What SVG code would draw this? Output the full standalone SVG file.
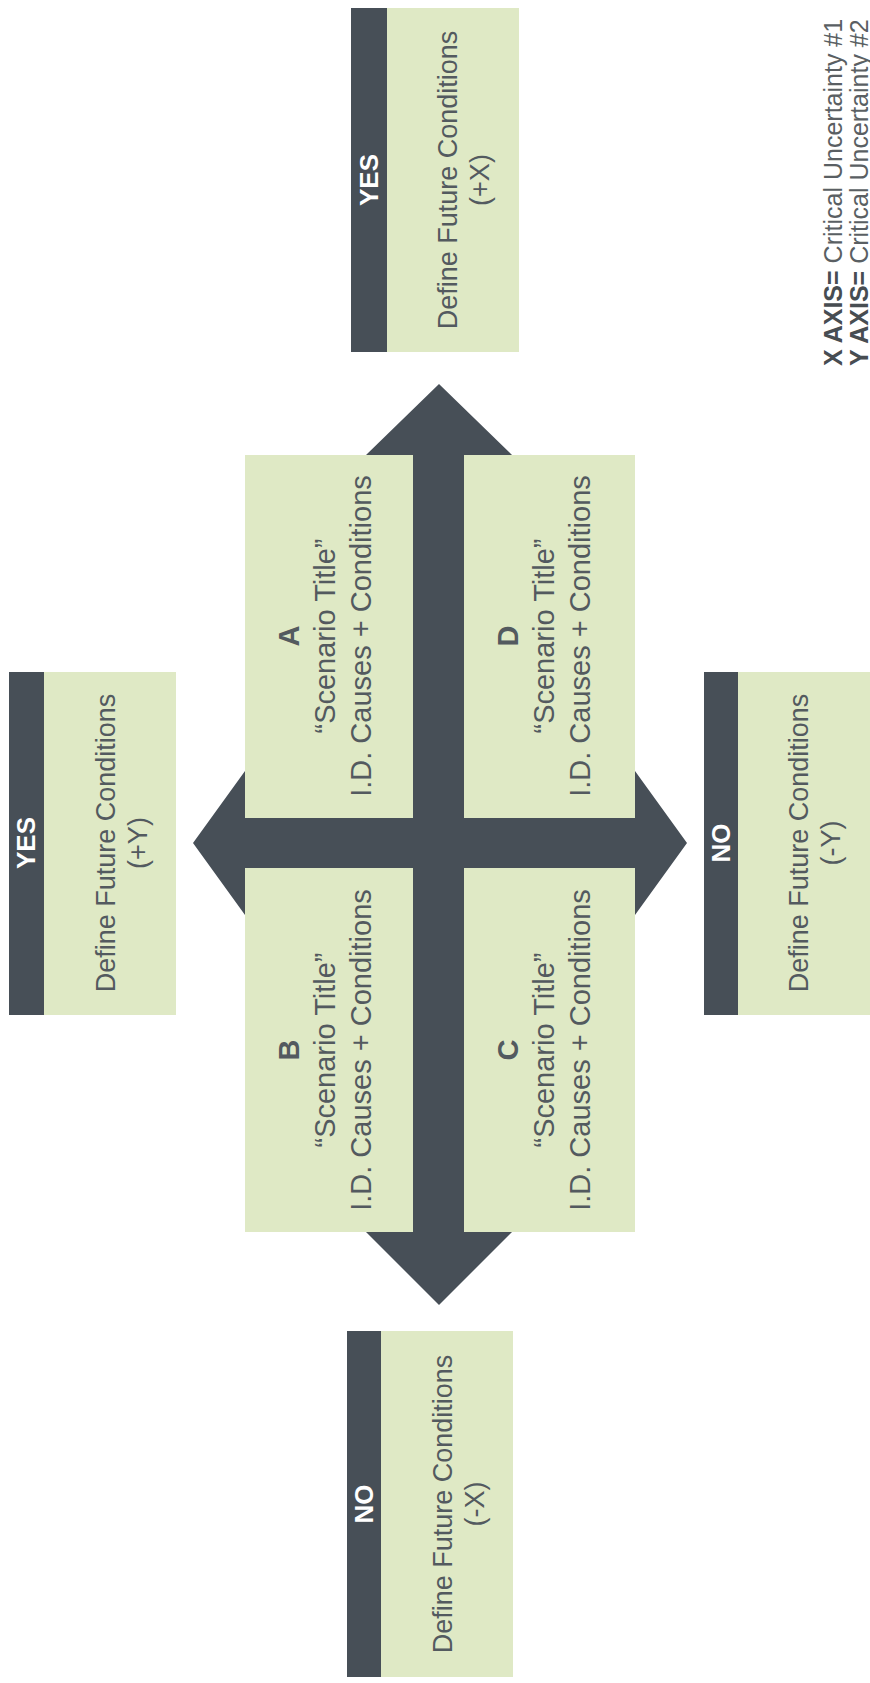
<svg xmlns="http://www.w3.org/2000/svg" width="870" height="1683" viewBox="0 0 870 1683">
<style>
.dark{fill:#474f57}
.green{fill:#dfe9c5}
.t{font-family:"Liberation Sans",Arial,sans-serif;font-size:27px;fill:#535a5f;text-anchor:middle}
.lbl{font-family:"Liberation Sans",Arial,sans-serif;font-size:26px;font-weight:bold;fill:#ffffff;text-anchor:middle}
.q{font-family:"Liberation Sans",Arial,sans-serif;font-size:29px;fill:#535a5f;text-anchor:middle}
.qb{font-weight:bold}
.leg{font-family:"Liberation Sans",Arial,sans-serif;font-size:25px;fill:#5a5f63}
.legb{font-weight:bold;fill:#474d52}
</style>
<rect width="870" height="1683" fill="#ffffff"/>
<g id="connectors">
<polygon class="dark" points="439,384 512,455 464,455 464,1232 512,1232 439,1305 366,1232 413,1232 413,455 366,455"/>
<polygon class="dark" points="193,843 245,771 245,818 635,818 635,771 687,843 635,915 635,868 245,868 245,915"/>
</g>
<g id="quad-A">
<rect class="green" x="245" y="455" width="168" height="363"/>
<text class="q qb" x="299" y="636" transform="rotate(-90 299 636)">A</text>
<text class="q" x="335" y="636" transform="rotate(-90 335 636)">“Scenario Title”</text>
<text class="q" x="371" y="636" transform="rotate(-90 371 636)">I.D. Causes + Conditions</text>
</g>
<g id="quad-D">
<rect class="green" x="464" y="455" width="171" height="363"/>
<text class="q qb" x="518" y="636" transform="rotate(-90 518 636)">D</text>
<text class="q" x="554" y="636" transform="rotate(-90 554 636)">“Scenario Title”</text>
<text class="q" x="590" y="636" transform="rotate(-90 590 636)">I.D. Causes + Conditions</text>
</g>
<g id="quad-B">
<rect class="green" x="245" y="868" width="168" height="364"/>
<text class="q qb" x="299" y="1050" transform="rotate(-90 299 1050)">B</text>
<text class="q" x="335" y="1050" transform="rotate(-90 335 1050)">“Scenario Title”</text>
<text class="q" x="371" y="1050" transform="rotate(-90 371 1050)">I.D. Causes + Conditions</text>
</g>
<g id="quad-C">
<rect class="green" x="464" y="868" width="171" height="364"/>
<text class="q qb" x="518" y="1050" transform="rotate(-90 518 1050)">C</text>
<text class="q" x="554" y="1050" transform="rotate(-90 554 1050)">“Scenario Title”</text>
<text class="q" x="590" y="1050" transform="rotate(-90 590 1050)">I.D. Causes + Conditions</text>
</g>
<g id="box-plus-x">
<rect class="dark" x="351" y="8" width="36" height="344"/>
<rect class="green" x="387" y="8" width="132" height="344"/>
<text class="lbl" x="378" y="180" transform="rotate(-90 378 180)">YES</text>
<text class="t" x="457" y="180" transform="rotate(-90 457 180)">Define Future Conditions</text>
<text class="t" x="489" y="180" transform="rotate(-90 489 180)">(+X)</text>
</g>
<g id="box-minus-x">
<rect class="dark" x="347" y="1331" width="34" height="346"/>
<rect class="green" x="381" y="1331" width="132" height="346"/>
<text class="lbl" x="373" y="1504" transform="rotate(-90 373 1504)">NO</text>
<text class="t" x="452" y="1504" transform="rotate(-90 452 1504)">Define Future Conditions</text>
<text class="t" x="484" y="1504" transform="rotate(-90 484 1504)">(-X)</text>
</g>
<g id="box-plus-y">
<rect class="dark" x="9" y="672" width="35" height="343"/>
<rect class="green" x="44" y="672" width="132" height="343"/>
<text class="lbl" x="35" y="843" transform="rotate(-90 35 843)">YES</text>
<text class="t" x="115" y="843" transform="rotate(-90 115 843)">Define Future Conditions</text>
<text class="t" x="147" y="843" transform="rotate(-90 147 843)">(+Y)</text>
</g>
<g id="box-minus-y">
<rect class="dark" x="704" y="672" width="34" height="343"/>
<rect class="green" x="738" y="672" width="132" height="343"/>
<text class="lbl" x="730" y="843" transform="rotate(-90 730 843)">NO</text>
<text class="t" x="808" y="843" transform="rotate(-90 808 843)">Define Future Conditions</text>
<text class="t" x="840" y="843" transform="rotate(-90 840 843)">(-Y)</text>
</g>
<g id="legend">
<text class="leg" x="842" y="366" transform="rotate(-90 842 366)"><tspan class="legb">X AXIS=</tspan> Critical Uncertainty #1</text>
<text class="leg" x="868" y="366" transform="rotate(-90 868 366)"><tspan class="legb">Y AXIS=</tspan> Critical Uncertainty #2</text>
</g>
</svg>
